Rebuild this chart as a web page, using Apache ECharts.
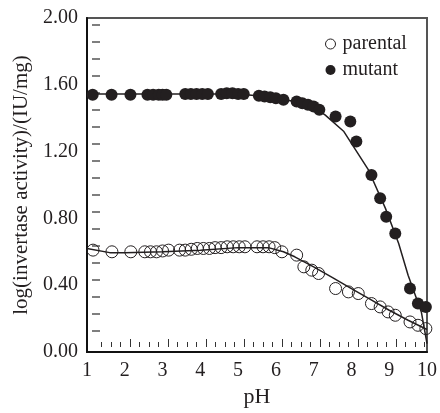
<!DOCTYPE html>
<html>
<head>
<meta charset="utf-8">
<script src="https://cdn.jsdelivr.net/npm/echarts@6/dist/echarts.min.js"></script>
<style>
  html, body { margin: 0; padding: 0; background: #fff; }
  #chart { width: 440px; height: 413px; }
</style>
</head>
<body>
<div id="chart"></div>
<script>
// measured points (pH, log activity)
var parentalPH = [1.16, 1.66, 2.16, 2.53, 2.68, 2.84, 3.0, 3.16, 3.45, 3.6, 3.76, 3.92, 4.08, 4.24, 4.39, 4.55, 4.71, 4.87, 5.03, 5.18, 5.5, 5.66, 5.82, 5.97, 6.16, 6.55, 6.74, 6.95, 7.13, 7.58, 7.92, 8.18, 8.53, 8.76, 8.97, 9.16, 9.55, 9.76, 9.97];
var parentalVal = [0.61, 0.60, 0.60, 0.60, 0.60, 0.60, 0.605, 0.61, 0.61, 0.61, 0.615, 0.62, 0.62, 0.62, 0.625, 0.625, 0.63, 0.63, 0.63, 0.63, 0.63, 0.63, 0.63, 0.625, 0.60, 0.58, 0.51, 0.49, 0.47, 0.38, 0.36, 0.35, 0.29, 0.27, 0.24, 0.22, 0.18, 0.16, 0.14];

var mutantPH = [1.15, 1.65, 2.15, 2.6, 2.75, 2.9, 3.0, 3.1, 3.6, 3.75, 3.9, 4.05, 4.2, 4.55, 4.7, 4.85, 5.0, 5.15, 5.55, 5.7, 5.85, 6.0, 6.2, 6.55, 6.7, 6.85, 7.0, 7.15, 7.58, 7.97, 8.13, 8.53, 8.76, 8.92, 9.16, 9.55, 9.76, 9.97];
var mutantVal = [1.54, 1.54, 1.54, 1.54, 1.54, 1.54, 1.54, 1.54, 1.545, 1.545, 1.545, 1.545, 1.545, 1.545, 1.55, 1.55, 1.545, 1.545, 1.535, 1.53, 1.525, 1.52, 1.51, 1.50, 1.49, 1.48, 1.47, 1.45, 1.41, 1.38, 1.26, 1.06, 0.92, 0.81, 0.71, 0.38, 0.29, 0.27];

// fitted curves
var parentalFitPH = [1, 1.6, 2, 3, 4, 5, 5.8, 6.2, 6.5, 7, 7.5, 8, 8.5, 9, 9.5, 10];
var parentalFitVal = [0.62, 0.595, 0.595, 0.60, 0.61, 0.625, 0.625, 0.60, 0.57, 0.51, 0.445, 0.38, 0.315, 0.25, 0.19, 0.135];
var mutantFitPH = [1, 5, 5.5, 6, 6.5, 7, 7.3, 7.8, 8.45, 8.9, 9.25, 9.5, 9.85, 10];
var mutantFitVal = [1.545, 1.545, 1.535, 1.52, 1.50, 1.465, 1.42, 1.32, 1.09, 0.86, 0.65, 0.46, 0.24, 0.05];

var seriesNames = ['parental', 'mutant'];
var xName = 'pH';
var yName = 'log(invertase activity)/(IU/mg)';

function pairs(xs, ys) {
    return xs.map(function (x, i) { return [x, ys[i]]; });
}

var ink = '#231f20';
var font = 'Liberation Serif';

var chart = echarts.init(document.getElementById('chart'));
chart.setOption({
    animation: false,
    textStyle: { fontFamily: font, color: ink },
    legend: {
        orient: 'vertical',
        left: 320,
        top: 29,
        itemWidth: 14,
        itemHeight: 10,
        itemGap: 6,
        textStyle: { fontFamily: font, fontSize: 20, color: ink },
        data: [
            { name: 'parental', icon: 'circle', itemStyle: { color: '#fff', borderColor: ink, borderWidth: 1 } },
            { name: 'mutant', icon: 'circle', itemStyle: { color: ink } }
        ]
    },
    grid: [
        // main plot
        { left: 87, top: 18, right: 11, bottom: 55, show: true, borderColor: '#555', borderWidth: 2 },
        // offset y dashes inside plot
        { left: 92, top: 25, bottom: 82, width: 10, show: false },
        // short x ticks inside plot
        { left: 101.5, right: 15.5, bottom: 66, top: 300, show: false },
        // tall x ticks inside plot
        { left: 130, right: 44, bottom: 66, top: 300, show: false }
    ],
    xAxis: [
        {
            type: 'value', gridIndex: 0, min: 1, max: 10, interval: 1,
            name: xName, nameLocation: 'middle', nameGap: 34,
            nameTextStyle: { fontFamily: font, fontSize: 22, color: ink },
            axisLine: { lineStyle: { color: '#111', width: 2 } },
            axisTick: { show: false },
            axisLabel: { fontFamily: font, fontSize: 20, color: ink, margin: 9 },
            splitLine: { show: false }
        },
        { type: 'value', gridIndex: 1, show: false },
        {
            type: 'value', gridIndex: 2, min: 0, max: 8.5, interval: 0.25,
            axisLine: { show: false },
            axisTick: { inside: true, length: 5, lineStyle: { color: '#333', width: 1 } },
            axisLabel: { show: false }, splitLine: { show: false }
        },
        {
            type: 'value', gridIndex: 3, min: 0, max: 7, interval: 1,
            axisLine: { show: false },
            axisTick: { inside: true, length: 8, lineStyle: { color: '#333', width: 1 } },
            axisLabel: { show: false }, splitLine: { show: false }
        }
    ],
    yAxis: [
        {
            type: 'value', gridIndex: 0, min: 0, max: 2, interval: 0.4,
            name: yName, nameLocation: 'middle', nameGap: 54,
            nameTextStyle: { fontFamily: font, fontSize: 21, color: ink },
            axisLine: { show: true, lineStyle: { color: '#111', width: 2 } },
            axisTick: { show: false },
            axisLabel: {
                fontFamily: font, fontSize: 20, color: ink, margin: 9,
                formatter: function (v) { return v.toFixed(2); }
            },
            splitLine: { show: false }
        },
        {
            type: 'value', gridIndex: 1, min: 0, max: 18, interval: 1,
            axisLine: { show: false },
            axisTick: { inside: true, length: 8, lineStyle: { color: '#555', width: 1.5 } },
            axisLabel: { show: false }, splitLine: { show: false }
        },
        { type: 'value', gridIndex: 2, show: false },
        { type: 'value', gridIndex: 3, show: false }
    ],
    series: [
        {
            name: 'parental fit', type: 'line', data: pairs(parentalFitPH, parentalFitVal),
            showSymbol: false, silent: true,
            lineStyle: { color: ink, width: 1.5 }, z: 3
        },
        {
            name: 'mutant fit', type: 'line', data: pairs(mutantFitPH, mutantFitVal),
            showSymbol: false, silent: true,
            lineStyle: { color: ink, width: 1.5 }, z: 3
        },
        {
            name: seriesNames[0], type: 'scatter', data: pairs(parentalPH, parentalVal),
            symbol: 'circle', symbolSize: 12,
            itemStyle: { color: 'rgba(255,255,255,0)', borderColor: ink, borderWidth: 1, opacity: 1 }, z: 4
        },
        {
            name: seriesNames[1], type: 'scatter', data: pairs(mutantPH, mutantVal),
            symbol: 'circle', symbolSize: 12,
            itemStyle: { color: ink, opacity: 1 }, z: 4
        }
    ]
});
</script>
</body>
</html>
